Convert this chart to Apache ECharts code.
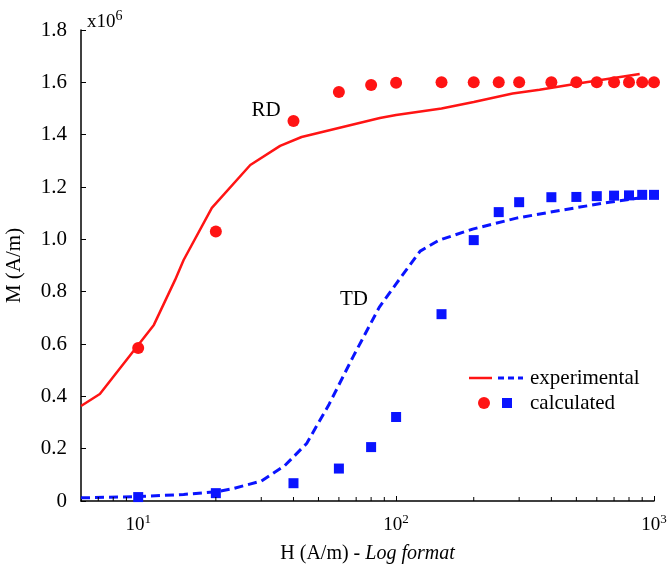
<!DOCTYPE html>
<html>
<head>
<meta charset="utf-8">
<script src="https://cdn.jsdelivr.net/npm/echarts@6/dist/echarts.min.js"></script>
<style>html,body{margin:0;padding:0;background:#fff}#c{width:667px;height:572px}</style>
</head>
<body>
<div id="c"></div>
<script>
// Red (RD) experimental curve: [H, M x1e6]
var rdExperimental = [[6,0.363],[7.1,0.409],[11.5,0.673],[13.9,0.845],[15,0.921],[19.3,1.12],[27.2,1.284],[35.5,1.357],[43,1.391],[86.5,1.464],[100,1.475],[150,1.5],[200,1.525],[283,1.557],[360,1.572],[500,1.595],[880,1.632]];
// Red (RD) calculated points
var rdCalculated = [[10,0.585],[20,1.03],[40,1.452],[60,1.563],[80,1.59],[100,1.598],[150,1.6],[200,1.6],[250,1.6],[300,1.6],[400,1.6],[500,1.6],[600,1.6],[700,1.6],[800,1.6],[900,1.6],[1000,1.6]];
// Blue (TD) experimental curve
var tdExperimental = [[6,0.012],[10,0.017],[15,0.025],[20,0.035],[23,0.046],[30,0.076],[37,0.135],[45,0.22],[55,0.37],[68,0.55],[86,0.74],[100,0.83],[124,0.955],[147,0.997],[198,1.039],[293,1.081],[441,1.112],[671,1.142],[880,1.158]];
// Blue (TD) calculated points
var tdCalculated = [[10,0.015],[20,0.03],[40,0.068],[60,0.124],[80,0.206],[100,0.321],[150,0.714],[200,0.997],[250,1.104],[300,1.142],[400,1.161],[500,1.162],[600,1.165],[700,1.167],[800,1.168],[900,1.17],[1000,1.17]];
// minor tick positions on the log axis
var minorTicks = [7,8,9,20,30,40,50,60,70,80,90,200,300,400,500,600,700,800,900];

var RED = '#ff1414', BLUE = '#0a14ff';
var FONT = 'Liberation Serif';
var chart = echarts.init(document.getElementById('c'));
chart.setOption({
  animation: false,
  textStyle: {fontFamily: FONT, color: '#000'},
  grid: {left: 81, right: 13, top: 30, bottom: 71, containLabel: false, outerBoundsMode: 'none'},
  xAxis: {
    type: 'log', logBase: 10, min: 6, max: 1000,
    name: '{n|H (A/m) - }{i|Log format}',
    nameLocation: 'middle', nameGap: 43,
    nameTextStyle: {rich: {n: {fontFamily: FONT, fontSize: 20, color: '#000'}, i: {fontFamily: FONT, fontSize: 20, fontStyle: 'italic', color: '#000'}}},
    axisLine: {lineStyle: {color: '#000', width: 1.5}},
    axisTick: {show: true, inside: true, length: 5, lineStyle: {color: '#000', width: 1}},
    splitLine: {show: false},
    axisLabel: {
      margin: 12,
      hideOverlap: false,
      formatter: function (v) {
        var e = Math.round(Math.log10(v));
        if (Math.abs(v - Math.pow(10, e)) > 1e-6 * v) return '';
        return '{b|10}{s|' + e + '}';
      },
      rich: {b: {fontFamily: FONT, fontSize: 19, color: '#000'}, s: {fontFamily: FONT, fontSize: 13, color: '#000', padding: [0, 0, 12, 0]}}
    }
  },
  yAxis: {
    type: 'value', min: 0, max: 1.8, interval: 0.2,
    name: 'M (A/m)', nameLocation: 'middle', nameGap: 56, nameRotate: 90,
    nameTextStyle: {fontFamily: FONT, fontSize: 21, color: '#000'},
    axisLine: {show: true, lineStyle: {color: '#000', width: 1.5}},
    axisTick: {show: true, inside: true, length: 5, lineStyle: {color: '#000'}},
    splitLine: {show: false},
    axisLabel: {margin: 14, fontFamily: FONT, fontSize: 21, color: '#000',
      formatter: function (v) { return v === 0 ? '0' : v.toFixed(1); }}
  },
  series: [
    {type: 'line', data: rdExperimental, showSymbol: false, symbol: 'none', lineStyle: {color: RED, width: 2.5}, z: 3},
    {type: 'line', data: tdExperimental, showSymbol: false, symbol: 'none', lineStyle: {color: BLUE, width: 3, type: [9, 5]}, z: 3},
    {type: 'scatter', data: rdCalculated, symbol: 'circle', symbolSize: 12, itemStyle: {color: RED, opacity: 1}, z: 4},
    {type: 'scatter', data: tdCalculated, symbol: 'rect', symbolSize: 10, itemStyle: {color: BLUE, opacity: 1}, z: 4},
    {type: 'scatter', data: minorTicks.map(function (t) { return [t, 0]; }), symbol: 'rect', symbolSize: [1, 4], symbolOffset: [0, -2], itemStyle: {color: '#000', opacity: 1}, silent: true, clip: false, z: 5}
  ],
  graphic: [
    {type: 'text', left: 87, top: 9, style: {text: '{a|x10}{b|6}', rich: {a: {fontFamily: FONT, fontSize: 19, fill: '#000'}, b: {fontFamily: FONT, fontSize: 14, fill: '#000', padding: [0, 0, 12, 0]}}}},
    {type: 'text', x: 266, y: 110, style: {text: 'RD', fontFamily: FONT, fontSize: 21, fill: '#000', align: 'center', verticalAlign: 'middle'}},
    {type: 'text', x: 354, y: 299, style: {text: 'TD', fontFamily: FONT, fontSize: 21, fill: '#000', align: 'center', verticalAlign: 'middle'}},
    {type: 'line', shape: {x1: 469, y1: 378, x2: 492, y2: 378}, style: {stroke: RED, lineWidth: 2.5}},
    {type: 'line', shape: {x1: 498, y1: 378, x2: 523, y2: 378}, style: {stroke: BLUE, lineWidth: 3, lineDash: [6, 4]}},
    {type: 'text', x: 530, y: 378, style: {text: 'experimental', fontFamily: FONT, fontSize: 21, fill: '#000', verticalAlign: 'middle'}},
    {type: 'circle', shape: {cx: 484, cy: 403, r: 6}, style: {fill: RED}},
    {type: 'rect', shape: {x: 502, y: 398, width: 10, height: 10}, style: {fill: BLUE}},
    {type: 'text', x: 530, y: 403, style: {text: 'calculated', fontFamily: FONT, fontSize: 21, fill: '#000', verticalAlign: 'middle'}}
  ]
});
</script>
</body>
</html>
